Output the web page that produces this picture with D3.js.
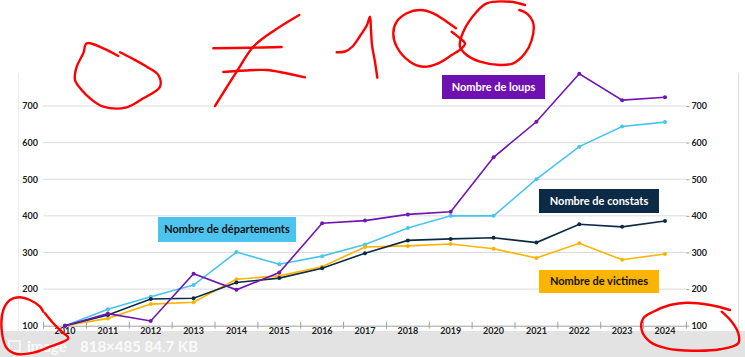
<!DOCTYPE html>
<html><head><meta charset="utf-8">
<script src="https://cdn.jsdelivr.net/npm/d3@7/dist/d3.min.js"></script>
<style>body{margin:0;background:#fff;}svg{display:block;}</style>
</head><body>
<svg id="c" width="745" height="357"></svg>
<script>
const years = [2010,2011,2012,2013,2014,2015,2016,2017,2018,2019,2020,2021,2022,2023,2024];
const loups = [100,133,113,242,198,245,380,387,404,411,560,657,788,716,724];
const departements = [100,145,179,211,301,268,290,322,367,400,400,500,589,644,656];
const constats = [100,129,173,175,218,230,257,298,333,337,340,327,377,370,386];
const victimes = [100,120,159,164,227,236,261,315,318,323,310,285,325,280,296];
const yTicks = [100,200,300,400,500,600,700];
const seriesNames = ["Nombre de loups","Nombre de départements","Nombre de constats","Nombre de victimes"];

// hand-drawn red annotations (decoration)
const scribbles = [
 [[118.3,56],[103.3,48.3],[86.7,43.3],[83.3,53.3],[76.7,66.7],[75,80],[81.7,90],[90,98.3],[103.3,106.7],[126.7,107.3],[143.3,98.3],[160,86.7],[158.3,75],[146.7,66.7],[131.7,58.3],[120,52.3]],
 [[213.3,48.3],[250,47.7],[281.7,47]],
 [[223.3,72],[245,70.5],[266.7,70],[285,73],[305,77.3]],
 [[299.3,15],[275,30],[253.3,46.7],[236.7,71.7],[225,90],[215,106]],
 [[336.7,52.3],[345,51.5],[352,47],[360,36],[367,25],[370,16.7],[371,30],[372,45],[375,62],[377.3,77.7]],
 [[456,28.3],[446.7,21.7],[433.3,13.3],[420,10],[406.7,13.3],[396.7,21.7],[393.3,33.3],[396.7,46.7],[410,61.7],[423.3,66.7],[438.3,63.3],[451.7,55],[461.7,48.3],[465,43.3],[460,38.3],[451.7,31.7]],
 [[525,5],[510,1.7],[486.7,3.3],[476.7,11.7],[463.3,31.7],[460,46.7],[466.7,55],[480,61.7],[500,65],[513.3,63.3],[525,53.3],[531.7,40],[533.3,23.3],[526.7,13.3],[519.3,10]],
 [[43.3,311.7],[40,306.7],[30,300],[20,297.3],[10,300],[3.3,310],[1.7,330],[6.7,348],[16.7,354],[33.3,352.7],[50,346.7],[68.3,338.3],[61.7,331.7],[53.3,323.3],[45,313.3]],
 [[730,310],[710,305],[686.7,302.7],[670,305],[653.3,311.7],[643.3,318.3],[641.7,330],[650,341.7],[666.7,348.3],[693.3,350.7],[720,349.3],[738.3,343.3],[738.3,333.3],[731.7,321.7],[721.7,311.7]]
];

const svg = d3.select("#c");
const FONT = "Lato, 'Open Sans', sans-serif";

// screenshot overlay bar & frame
svg.append("rect").attr("x",0).attr("y",331).attr("width",745).attr("height",26).attr("fill","#e3e3e3");
svg.append("line").attr("x1",18.5).attr("x2",18.5).attr("y1",73).attr("y2",331).attr("stroke","#ececec");
svg.append("line").attr("x1",738.5).attr("x2",738.5).attr("y1",73).attr("y2",331).attr("stroke","#dcdcdc");
const ov = svg.append("g").attr("fill","#fafafa").attr("font-family",FONT).attr("font-weight",700).attr("font-size",15);
ov.append("rect").attr("x",9).attr("y",341).attr("width",11).attr("height",10).attr("fill","none").attr("stroke","#fafafa").attr("stroke-width",1.5);
ov.append("text").attr("x",27).attr("y",352).text("image");
ov.append("text").attr("x",80).attr("y",352).text("818×485 84.7 KB");

const x = d3.scaleBand().domain(years).range([43.6,686.4]);
const cx = d => x(d) + x.bandwidth()/2;
const y = d3.scaleLinear().domain([100,700]).range([325.7,106]);

// grid
svg.append("g").selectAll("line").data(yTicks.filter(t=>t>100)).join("line")
 .attr("x1",43.6).attr("x2",686.4).attr("y1",d=>y(d)).attr("y2",d=>y(d))
 .attr("stroke","#b5b5b5").attr("stroke-width",1).attr("stroke-dasharray","1,1");

// x axis
const xAxis = d3.axisBottom(x).tickSize(0).tickFormat(d3.format("d"));
const gx = svg.append("g").attr("transform",`translate(0,${y(100)})`).call(xAxis);
gx.select(".domain").attr("stroke","#a0a0a0");
gx.selectAll("text").attr("font-family",FONT).attr("font-size",9).attr("font-weight",700).attr("fill","#222").attr("dy","0.55em");
const bounds = years.map(d=>x(d)).concat([686.4]);
svg.append("g").selectAll("line").data(bounds).join("line")
 .attr("x1",d=>d).attr("x2",d=>d).attr("y1",y(100)-4).attr("y2",y(100)+3)
 .attr("stroke","#a0a0a0");

// y axes
const yl = svg.append("g").attr("transform","translate(38,0)")
 .call(d3.axisLeft(y).tickValues(yTicks).tickSize(0).tickPadding(0));
yl.select(".domain").remove();
yl.selectAll("text").attr("font-family",FONT).attr("font-size",9).attr("font-weight",700).attr("fill","#222");
const yr = svg.append("g").attr("transform","translate(686.4,0)")
 .call(d3.axisRight(y).tickValues(yTicks).tickSize(3).tickPadding(2));
yr.select(".domain").remove();
yr.selectAll("line").attr("stroke","#a0a0a0");
yr.selectAll("text").attr("font-family",FONT).attr("font-size",9).attr("font-weight",700).attr("fill","#222");

// series
const series = [
 {name:seriesNames[1], vals:departements, color:"#47c4ef"},
 {name:seriesNames[3], vals:victimes, color:"#fbb400"},
 {name:seriesNames[2], vals:constats, color:"#0d2a45"},
 {name:seriesNames[0], vals:loups, color:"#7014b3"}
];
const line = d3.line().x((d,i)=>cx(years[i])).y(d=>y(d));
series.forEach(s=>{
 svg.append("path").attr("d",line(s.vals)).attr("fill","none").attr("stroke",s.color).attr("stroke-width",1.6);
 svg.append("g").selectAll("circle").data(s.vals).join("circle")
  .attr("cx",(d,i)=>cx(years[i])).attr("cy",d=>y(d)).attr("r",2).attr("fill",s.color);
});

// label boxes
const boxes = [
 {name:seriesNames[0], x0:442, y0:75, w:103, h:24, bg:"#6f10b0", fg:"#fff"},
 {name:seriesNames[1], x0:158, y0:217, w:138, h:25, bg:"#4dc4ee", fg:"#111"},
 {name:seriesNames[2], x0:539, y0:189, w:120, h:24, bg:"#0b2a45", fg:"#fff"},
 {name:seriesNames[3], x0:539, y0:270, w:120, h:23, bg:"#fbb400", fg:"#111"}
];
boxes.forEach(b=>{
 svg.append("rect").attr("x",b.x0).attr("y",b.y0).attr("width",b.w).attr("height",b.h).attr("fill",b.bg);
 svg.append("text").attr("x",b.x0+b.w/2).attr("y",b.y0+b.h/2).attr("dy","0.36em")
  .attr("text-anchor","middle").attr("font-family",FONT).attr("font-weight",700).attr("font-size",11)
  .attr("fill",b.fg).text(b.name);
});

// red scribbles
const sl = d3.line().curve(d3.curveCatmullRom.alpha(0.5));
svg.append("g").selectAll("path").data(scribbles).join("path")
 .attr("d",sl).attr("fill","none").attr("stroke","#f00").attr("stroke-width",2.4)
 .attr("stroke-linecap","round").attr("stroke-linejoin","round");
</script>
</body></html>
